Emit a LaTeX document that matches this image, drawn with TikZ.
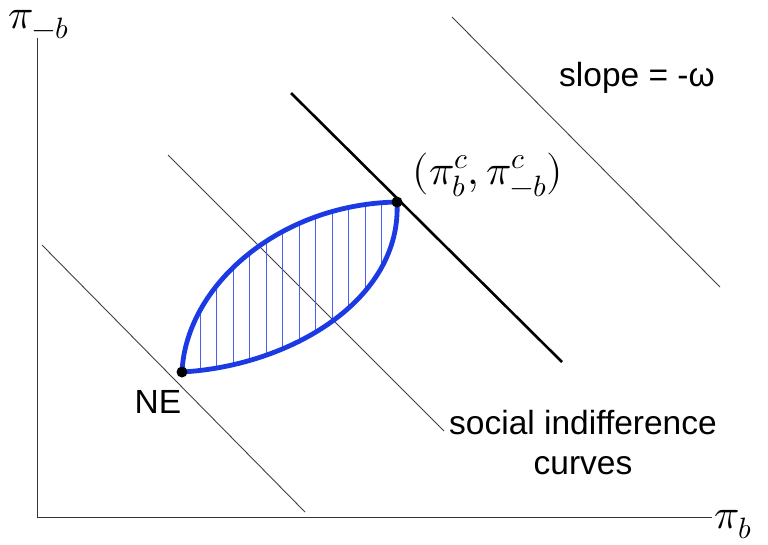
\documentclass[tikz,border=0pt]{standalone}
\usepackage{fontspec}
\usepackage{unicode-math}
\setmainfont{Liberation Sans}
\setmathfont{Latin Modern Math}
\definecolor{lensblue}{RGB}{28,58,228}
\begin{document}
\begin{tikzpicture}[x=1pt,y=-1pt,
  sic/.style={draw=black!75,line width=0.9pt},
  axis/.style={draw=black!80,line width=0.9pt},
  lens/.style={draw=lensblue,line width=4.8pt,line cap=round},
  hatch/.style={draw=lensblue!80,line width=0.7pt},
  lbl/.style={font=\fontsize{33.5}{40}\selectfont,inner sep=0pt},
  mlbl/.style={font=\fontsize{42}{48}\selectfont,inner sep=0pt},
  pt/.style={circle,fill=black,inner sep=0pt,minimum size=11pt}]
\useasboundingbox (0,0) rectangle (768,544);
% axes
\coordinate (O) at (37,517);
\coordinate (ytop) at (37,38);
\coordinate (xend) at (712,517);
\draw[axis] (ytop) -- (O) -- (xend);
\node[mlbl,anchor=base west] (ylab) at (8,28) {$\pi_{-b}$};
\node[mlbl,anchor=base west] (xlab) at (714,528) {$\pi_b$};
% social indifference lines
\coordinate (l1a) at (42,245); \coordinate (l1b) at (305,512);
\coordinate (l2a) at (168,155); \coordinate (l2b) at (444,431);
\coordinate (l4a) at (452,17); \coordinate (l4b) at (720,287);
\draw[sic] (l1a) -- (l1b);
\draw[sic] (l2a) -- (l2b);
\draw[sic] (l4a) -- (l4b);
\coordinate (l3a) at (291,93); \coordinate (l3b) at (562,362);
\draw[draw=black,line width=2.6pt] (l3a) -- (l3b);
% lens
\coordinate (ne) at (182,372);
\coordinate (c) at (397,202);
\begin{scope}
\clip (ne) .. controls (186,285) and (280,204) .. (c) .. controls (402,300) and (290,366) .. (ne) -- cycle;
\foreach \x in {200,216.5,...,390} {
  \draw[hatch] (\x,150) -- (\x,400);
}
\end{scope}
\draw[lens] (ne) .. controls (186,285) and (280,204) .. (c);
\draw[lens] (ne) .. controls (290,366) and (402,300) .. (c);
\node[pt] (nedot) at (ne) {};
\node[pt] (cdot) at (c) {};
% labels
\node[lbl] (nelab) at (158,402) {NE};
\node[mlbl,anchor=base] (clab) at (488,184) {$(\pi_b^c,\pi_{-b}^c)$};
\node[lbl] (slope) at (637,78) {slope = -ω};
\node[lbl,align=center] (sic) at (583,443) {social indifference\\curves};
\end{tikzpicture}
\end{document}
